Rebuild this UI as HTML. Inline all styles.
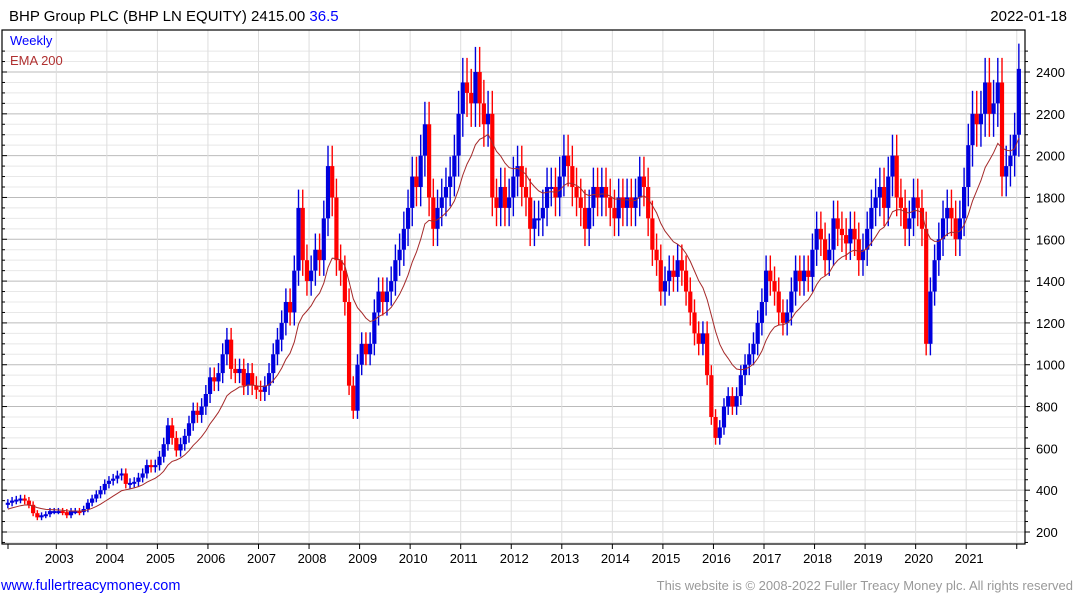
<!DOCTYPE html>
<html><head><meta charset="utf-8"><style>
body{margin:0;background:#fff;}
svg{display:block;font-family:"Liberation Sans",sans-serif;}
</style></head><body>
<svg id="chart" width="1075" height="600" viewBox="0 0 1075 600" xmlns="http://www.w3.org/2000/svg">
<rect width="1075" height="600" fill="#fff"/>
<text x="9" y="21" font-size="15" fill="#000">BHP Group PLC (BHP LN EQUITY) 2415.00 <tspan fill="#0000ff">36.5</tspan></text>
<text x="1067" y="21" font-size="15" fill="#000" text-anchor="end">2022-01-18</text>
<g id="grid"></g>
<g id="marks"></g>
<rect x="2" y="30" width="1023" height="514" fill="none" stroke="#000" stroke-width="1.2"/>
<g id="axes"></g>
<text x="10" y="45" font-size="13" fill="#0000ff">Weekly</text>
<text x="10" y="65" font-size="13" fill="#b03030">EMA 200</text>
<text x="1" y="590" font-size="14.5" fill="#0000ff">www.fullertreacymoney.com</text>
<text x="1073" y="590" font-size="13" fill="#999" text-anchor="end">This website is © 2008-2022 Fuller Treacy Money plc. All rights reserved</text>
</svg>
<script>
const startYear = 2002;
const closes = [
340,350,355,360,350,330,290,270,280,285,300,300,
300,295,280,300,300,295,310,340,360,380,400,430,
445,455,470,480,430,435,440,460,480,520,510,520,
560,620,710,650,590,620,660,720,780,760,800,860,
940,920,960,1050,1120,980,960,980,900,960,900,880,
870,900,960,1050,1120,1200,1300,1250,1450,1750,1500,1400,
1450,1550,1500,1700,1950,1800,1500,1450,1300,900,780,1000,
1100,1050,1100,1250,1350,1300,1350,1400,1500,1550,1650,1750,
1900,1850,2000,2150,1800,1650,1750,1800,1850,1900,2000,2200,
2350,2300,2250,2400,2250,2150,2200,1800,1750,1850,1750,1800,
1900,1950,1850,1800,1650,1700,1700,1750,1850,1850,1800,1900,
2000,1950,1850,1800,1750,1650,1750,1850,1800,1850,1800,1750,
1700,1800,1750,1800,1750,1800,1900,1850,1700,1550,1500,1350,
1400,1450,1420,1500,1450,1350,1250,1150,1100,1150,950,750,
650,700,800,850,800,850,950,1000,1050,1100,1200,1300,
1450,1400,1350,1250,1200,1250,1350,1450,1400,1450,1420,1550,
1650,1600,1500,1550,1700,1650,1620,1580,1650,1600,1500,1550,
1650,1750,1800,1850,1750,1900,2000,1800,1750,1650,1700,1800,
1750,1650,1100,1350,1500,1600,1700,1750,1700,1600,1700,1850,
2050,2200,2150,2200,2350,2200,2250,2350,1900,1950,2000,2100,
2415];
const yTicks = [200,400,600,800,1000,1200,1400,1600,1800,2000,2200,2400];
const xYears = [2003,2004,2005,2006,2007,2008,2009,2010,2011,2012,2013,2014,2015,2016,2017,2018,2019,2020,2021];

const NS="http://www.w3.org/2000/svg";
function xOf(t){return 56.3+(t-2003)*50.55;}
function yOf(v){return 532-(v-200)*0.20909;}
function mk(tag,attrs,parent){const e=document.createElementNS(NS,tag);for(const k in attrs)e.setAttribute(k,attrs[k]);parent.appendChild(e);return e;}
const grid=document.getElementById('grid'),marks=document.getElementById('marks'),axes=document.getElementById('axes');
for(let v=150;v<=2500;v+=50){
  const y=yOf(v); if(y<31||y>543)continue;
  const major=(v%200===0);
  const l=mk('line',{x1:2,x2:1025,y1:y,y2:y,stroke:major?'#bbb':'#e8e8e8','stroke-width':1},grid);
  
  
  const t1=mk('line',{x1:1025,x2:major?1030:1028,y1:y,y2:y,stroke:'#000'},axes);
  
  
  const t2=mk('line',{x1:2,x2:major?7:5,y1:y,y2:y,stroke:'#000'},axes);
  
  
}
yTicks.forEach(v=>{
  const t=mk('text',{x:1036,y:yOf(v)+5,'font-size':13,fill:'#000'},axes);
  t.textContent=v;
  
  
});
xYears.concat([2022]).forEach(yr=>{
  const x=xOf(yr);
  const g=mk('line',{x1:x,x2:x,y1:30,y2:544,stroke:'#ddd','stroke-width':1},grid);
  
  
  const tk=mk('line',{x1:x,x2:x,y1:544,y2:549,stroke:'#000'},axes);
  
  
});
{const tk=mk('line',{x1:8,x2:8,y1:544,y2:549,stroke:'#000'},axes);

}
xYears.forEach(yr=>{
  const t=mk('text',{x:xOf(yr)+3,y:563,'font-size':13,fill:'#000','text-anchor':'middle'},axes);
  t.textContent=yr;
  
  
});
let prev=closes[0];
closes.forEach((c,i)=>{
  const t=startYear+(i+0.5)/12;
  const x=xOf(t);
  const o=(i===0)?c*0.97:prev;
  const hi=Math.max(o,c)*1.05, lo=Math.min(o,c)*0.95;
  const col=c>=o?'#0000dd':'#ff0000';
  const w=mk('line',{x1:x,x2:x,y1:yOf(hi),y2:yOf(lo),stroke:col,'stroke-width':1.4},marks);
  
  
  const yt=yOf(Math.max(o,c)),yb=yOf(Math.min(o,c));
  const b=mk('rect',{x:x-2.1,y:yt,width:4.2,height:Math.max(2,yb-yt),fill:col},marks);
  
  
  prev=c;
});
let ema=305; const a=2/15; let pts=[];
closes.forEach((c,i)=>{ema=ema+a*(c-ema);pts.push(xOf(startYear+(i+0.5)/12).toFixed(1)+','+yOf(ema).toFixed(1));});
const pl=mk('polyline',{points:pts.join(' '),fill:'none',stroke:'#a52a2a','stroke-width':1},marks);


</script>
</body></html>
